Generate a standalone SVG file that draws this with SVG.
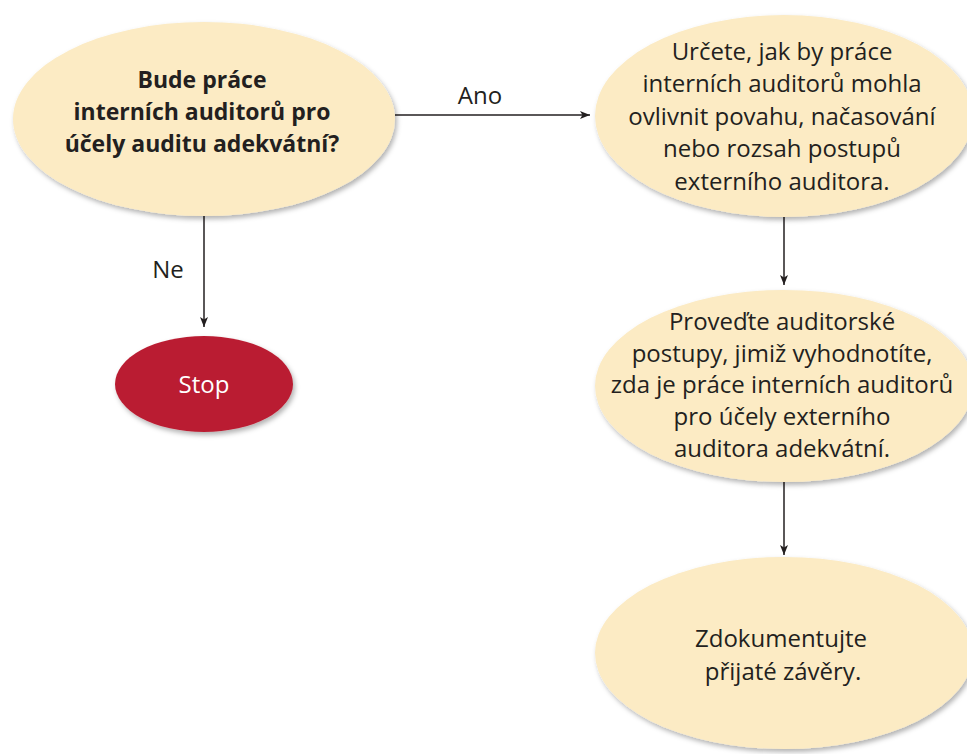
<svg xmlns="http://www.w3.org/2000/svg" width="967" height="754" viewBox="0 0 967 754">
  <style>
    .node { fill: #fcebc4; filter: url(#shadow); }
    .stop { fill: #ba1f33; filter: url(#shadow); }
    .txt { font-family: "Open Sans", Lato, sans-serif; font-size: 24px; fill: #231f20; text-anchor: middle; }
    .bold { font-weight: bold; font-size: 23px; }
    .white { fill: #ffffff; }
    .edge { stroke: #231f20; stroke-width: 1.5; fill: none; marker-end: url(#arrow); }
  </style>
  <defs>
    <filter id="shadow" x="-10%" y="-10%" width="125%" height="130%">
      <feDropShadow dx="2" dy="3" stdDeviation="2.5" flood-color="#000" flood-opacity="0.3"/>
    </filter>
    <marker id="arrow" viewBox="0 0 10 10" refX="10" refY="5" markerWidth="10" markerHeight="10" markerUnits="userSpaceOnUse" orient="auto">
      <path d="M0,1 L10,5 L0,9 L2.5,5 Z" fill="#231f20"/>
    </marker>
  </defs>

  <g id="connectors">
    <line class="edge" x1="395" y1="115" x2="590" y2="115"/>
    <line class="edge" x1="204" y1="216" x2="204" y2="327"/>
    <line class="edge" x1="784" y1="217" x2="784" y2="285"/>
    <line class="edge" x1="784" y1="482" x2="784" y2="555"/>
    <text class="txt" x="480" y="104">Ano</text>
    <text class="txt" x="168" y="278">Ne</text>
  </g>

  <g id="decision">
    <ellipse class="node" cx="204" cy="119" rx="191" ry="97"/>
    <text class="txt bold" x="202" y="88">Bude práce</text>
    <text class="txt bold" x="202" y="120">interních auditorů pro</text>
    <text class="txt bold" x="202" y="152">účely auditu adekvátní?</text>
  </g>

  <g id="determine">
    <ellipse class="node" cx="784" cy="116" rx="189" ry="101"/>
    <text class="txt" x="782" y="60">Určete, jak by práce</text>
    <text class="txt" x="782" y="92">interních auditorů mohla</text>
    <text class="txt" x="782" y="125">ovlivnit povahu, načasování</text>
    <text class="txt" x="782" y="157">nebo rozsah postupů</text>
    <text class="txt" x="782" y="190">externího auditora.</text>
  </g>

  <g id="procedures">
    <ellipse class="node" cx="784" cy="386" rx="189" ry="96"/>
    <text class="txt" x="782" y="330">Proveďte auditorské</text>
    <text class="txt" x="782" y="362">postupy, jimiž vyhodnotíte,</text>
    <text class="txt" x="782" y="393">zda je práce interních auditorů</text>
    <text class="txt" x="782" y="425">pro účely externího</text>
    <text class="txt" x="782" y="457">auditora adekvátní.</text>
  </g>

  <g id="document">
    <ellipse class="node" cx="784" cy="653" rx="189" ry="96"/>
    <text class="txt" x="781" y="647">Zdokumentujte</text>
    <text class="txt" x="783" y="680">přijaté závěry.</text>
  </g>

  <g id="stop">
    <ellipse class="stop" cx="204" cy="384" rx="89" ry="48"/>
    <text class="txt white" x="204" y="393">Stop</text>
  </g>
</svg>
